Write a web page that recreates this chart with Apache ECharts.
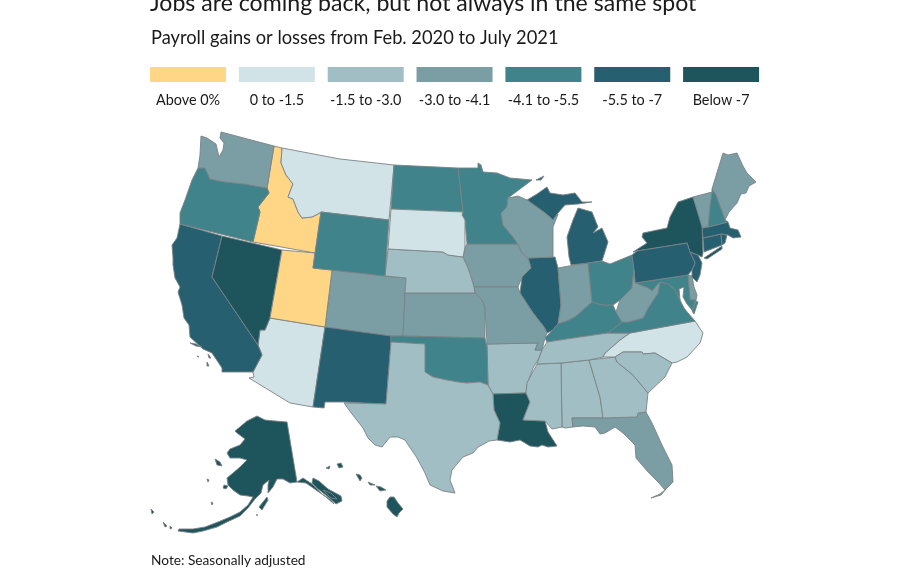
<!DOCTYPE html>
<html><head><meta charset="utf-8">
<style>html,body{margin:0;padding:0;background:#fff;overflow:hidden}#c{width:910px;height:568px}</style>
<script src="https://cdn.jsdelivr.net/npm/echarts@6/dist/echarts.min.js"></script>
</head><body><div id="c"></div>
<script>
const titleText = 'Jobs are coming back, but not always in the same spot';
const subtitleText = 'Payroll gains or losses from Feb. 2020 to July 2021';
const noteText = 'Note: Seasonally adjusted';
const legendLabels = ['Above 0%', '0 to -1.5', '-1.5 to -3.0', '-3.0 to -4.1', '-4.1 to -5.5', '-5.5 to -7', 'Below -7'];
const legendColors = ['#ffd685', '#d2e3e7', '#a0bec4', '#7a9ea4', '#40838a', '#265f70', '#1e555d'];
const binLower = [0, -1.5, -3.0, -4.1, -5.5, -7, -30];
const binUpper = [30, 0, -1.5, -3.0, -4.1, -5.5, -7];

const stateNames = ['Alabama','Alaska','Arizona','Arkansas','California','Colorado','Connecticut','Delaware','Florida','Georgia','Hawaii','Idaho','Illinois','Indiana','Iowa','Kansas','Kentucky','Louisiana','Maine','Maryland','Massachusetts','Michigan','Minnesota','Mississippi','Missouri','Montana','Nebraska','Nevada','New Hampshire','New Jersey','New Mexico','New York','North Carolina','North Dakota','Ohio','Oklahoma','Oregon','Pennsylvania','Rhode Island','South Carolina','South Dakota','Tennessee','Texas','Utah','Vermont','Virginia','Washington','West Virginia','Wisconsin','Wyoming'];
const stateValues = [-2.2,-7.5,-0.9,-1.9,-6.4,-3.6,-6.2,-3.9,-3.7,-1.9,-12.5,1.9,-5.9,-3.2,-3.4,-3.8,-4.3,-7.6,-3.5,-5.1,-6.6,-6.1,-5.0,-2.4,-3.3,-0.8,-2.4,-7.8,-4.6,-6.3,-5.8,-9.0,-1.2,-5.2,-4.7,-4.5,-4.9,-6.0,-5.7,-2.5,-1.1,-2.0,-2.6,1.6,-3.9,-4.8,-3.6,-3.7,-3.3,-5.3];

/* state outlines, traced in the reference's map space (one list per ring) */
const stateShapes = {
Washington:[[[201,136],[207,138],[216,144],[219,157],[223,150],[224,143],[220,138],[221,132],[274,146],[267,188],[245,184],[225,182],[210,179],[205,168],[198,168],[200,155]]],
Oregon:[[[198,168],[205,168],[210,179],[225,182],[245,184],[267,188],[269,193],[258,207],[260,212],[253,242],[180,224],[180,213],[185,200],[192,180]]],
Idaho:[[[274,146],[282,148],[281,163],[286,175],[293,184],[288,197],[293,199],[298,212],[302,218],[312,217],[318,214],[321,212],[315,253],[253,242],[260,212],[258,207],[269,193],[267,188]]],
Montana:[[[282,148],[340,159],[394,165],[389,220],[321,212],[318,214],[312,217],[302,218],[298,212],[293,199],[288,197],[293,184],[286,175],[281,163]]],
Wyoming:[[[321,212],[389,220],[385,276],[313,268]]],
Nevada:[[[222,236],[282,250],[270,318],[265,330],[260,330],[258,345],[212,277]]],
Utah:[[[282,250],[315,253],[313,268],[332,270],[325,327],[270,318]]],
Colorado:[[[332,270],[385,276],[406,278],[403,336],[391,336],[325,327]]],
Arizona:[[[270,318],[325,327],[313,407],[290,403],[249,378],[254,377],[253,372],[262,355],[258,345],[260,330],[265,330]]],
'New Mexico':[[[325,327],[391,336],[391,342],[386,404],[343,402],[325,402],[324,408],[313,407]]],
California:[[[180,224],[222,236],[212,277],[258,345],[262,355],[253,372],[222,372],[222,368],[212,353],[203,349],[190,337],[189,325],[184,318],[182,305],[178,292],[180,287],[175,278],[173,265],[173,258],[172,245],[177,238]],[[190,343],[196,344],[202,347],[196,346]],[[197,356],[199,357],[198,358]],[[208,354],[211,358],[209,358]],[[207,362],[209,366],[207,366]]],
Oklahoma:[[[391,336],[403,336],[485,338],[487,347],[488,385],[480,382],[467,383],[458,382],[447,380],[433,377],[425,372],[425,344],[391,342]]],
Texas:[[[391,342],[425,344],[425,372],[433,377],[447,380],[458,382],[467,383],[480,382],[488,385],[493,394],[494,410],[500,423],[497,440],[489,441],[484,444],[478,447],[473,453],[463,457],[452,470],[450,480],[455,493],[443,491],[430,485],[425,473],[417,458],[405,440],[398,437],[390,437],[382,447],[375,445],[368,438],[363,428],[352,414],[344,403],[386,404]]],
Nebraska:[[[388,249],[443,252],[448,255],[463,257],[468,268],[472,280],[474,287],[475,293],[405,293],[406,278],[385,276]]],
'South Dakota':[[[391,209],[463,212],[462,215],[465,220],[465,247],[463,257],[448,255],[443,252],[388,249]]],
'North Dakota':[[[394,165],[458,168],[463,212],[391,209]]],
Minnesota:[[[458,168],[478,168],[478,163],[481,165],[483,172],[497,173],[510,178],[532,180],[508,198],[507,207],[501,213],[503,225],[513,237],[518,244],[467,244],[465,220],[462,215],[463,212]]],
Iowa:[[[467,244],[518,244],[522,253],[528,258],[531,268],[522,277],[518,287],[474,287],[472,280],[468,268],[463,257],[465,247]]],
Missouri:[[[474,287],[518,287],[520,293],[533,313],[544,327],[547,333],[545,338],[542,350],[535,350],[538,343],[487,344],[485,307],[482,300],[475,293]]],
Kansas:[[[405,293],[475,293],[482,300],[485,307],[485,338],[403,336]]],
Arkansas:[[[487,344],[538,343],[535,350],[542,350],[538,360],[533,368],[527,385],[526,393],[493,394],[488,385]]],
Louisiana:[[[493,394],[526,393],[530,402],[523,420],[545,421],[548,432],[557,446],[548,447],[542,445],[538,447],[530,446],[520,440],[510,442],[497,440],[500,423],[494,410]]],
Mississippi:[[[537,364],[561,363],[562,427],[552,429],[545,421],[523,420],[530,402],[526,393],[527,383]]],
Alabama:[[[561,363],[589,360],[600,397],[603,418],[572,418],[573,427],[565,428],[562,427]]],
Georgia:[[[589,360],[615,357],[617,362],[633,375],[648,393],[646,412],[638,413],[637,417],[603,418],[600,397]]],
'South Carolina':[[[615,357],[623,352],[642,352],[643,354],[655,353],[672,363],[665,377],[648,393],[633,375],[617,362]]],
Florida:[[[572,418],[603,418],[637,417],[638,413],[646,412],[652,423],[662,445],[672,465],[673,482],[665,490],[658,482],[648,472],[636,458],[635,445],[623,433],[615,427],[605,433],[600,434],[595,427],[583,426],[573,427]],[[651,498],[660,494],[666,489],[661,495]]],
Tennessee:[[[547,342],[580,337],[608,333],[630,333],[620,340],[612,347],[605,353],[603,357],[589,360],[561,363],[537,364],[542,350]]],
'North Carolina':[[[695,321],[703,333],[700,343],[687,357],[677,362],[672,363],[655,353],[643,354],[642,352],[623,352],[615,357],[603,357],[605,353],[612,347],[620,340],[630,333]]],
Virginia:[[[695,321],[630,333],[608,333],[622,322],[628,322],[643,318],[648,308],[658,293],[660,282],[668,284],[675,290],[680,300],[684,308],[688,313]],[[696,301],[698,302],[694,314],[692,311]]],
Maryland:[[[635,283],[688,275],[690,300],[696,300],[692,310],[687,304],[683,297],[684,287],[679,289],[680,300],[675,290],[668,284],[660,282],[652,291],[648,288]]],
Delaware:[[[688,275],[692,276],[694,287],[697,295],[696,300],[690,300]]],
'West Virginia':[[[634,270],[635,283],[648,288],[652,291],[660,282],[658,293],[648,308],[643,318],[628,322],[622,322],[616,312],[620,300],[632,288]]],
Kentucky:[[[545,338],[558,324],[567,321],[575,317],[592,302],[603,305],[613,305],[616,312],[622,322],[608,333],[580,337],[547,342]]],
Ohio:[[[588,263],[602,261],[610,264],[632,255],[634,270],[632,288],[620,300],[613,305],[603,305],[592,302]]],
Indiana:[[[558,268],[569,266],[588,263],[592,302],[575,317],[567,321],[558,324],[561,305]]],
Illinois:[[[528,258],[555,257],[558,268],[561,305],[558,324],[553,330],[547,333],[544,327],[533,313],[520,293],[522,277],[531,268]]],
Wisconsin:[[[508,198],[518,196],[527,200],[545,213],[553,220],[558,214],[553,227],[553,257],[528,258],[522,253],[518,244],[513,237],[503,225],[501,213],[507,207]]],
Michigan:[[[527,200],[537,194],[547,187],[550,193],[563,195],[575,193],[582,202],[592,202],[578,204],[565,205],[558,213],[553,220],[545,213]],[[578,208],[592,212],[598,227],[593,233],[602,228],[608,242],[602,261],[588,263],[571,265],[569,257],[567,237],[573,220]],[[536,180],[544,176],[541,180]]],
Pennsylvania:[[[632,255],[637,251],[687,243],[690,252],[695,263],[692,270],[688,275],[635,283],[634,270]]],
'New Jersey':[[[690,252],[698,255],[702,263],[700,275],[697,282],[692,277],[692,270],[695,263]]],
'New York':[[[637,251],[633,252],[647,243],[642,237],[643,233],[667,228],[670,217],[678,202],[693,197],[702,223],[703,253],[702,257],[698,255],[690,252],[687,243]],[[704,258],[722,246],[722,249],[707,259]]],
Vermont:[[[693,197],[712,192],[710,205],[708,227],[702,227]]],
'New Hampshire':[[[712,189],[716,195],[725,220],[728,222],[708,227],[710,205],[712,192]]],
Maine:[[[712,189],[723,153],[728,155],[737,153],[743,166],[747,173],[756,182],[749,186],[746,193],[741,194],[737,203],[729,212],[725,220],[716,195]]],
Massachusetts:[[[702,228],[708,227],[728,222],[730,228],[738,230],[741,237],[733,238],[728,235],[721,234],[703,238]]],
Connecticut:[[[703,238],[721,234],[722,245],[704,252]]],
'Rhode Island':[[[721,234],[727,235],[725,243],[722,245]]],
Alaska:[[[257,416],[265,420],[275,421],[287,422],[297,482],[290,483],[283,479],[277,479],[273,487],[268,493],[268,485],[269,480],[263,485],[261,493],[255,499],[248,508],[240,516],[227,522],[217,527],[203,531],[193,533],[178,531],[179,529],[193,529],[205,527],[218,522],[230,517],[240,512],[248,505],[253,497],[248,496],[240,495],[233,490],[228,485],[227,478],[233,473],[240,467],[247,460],[240,458],[230,458],[227,453],[230,449],[240,445],[245,439],[237,433],[235,431],[247,421]],[[297,482],[303,478],[312,484],[322,494],[331,500],[334,504],[326,497],[316,490],[306,483]],[[313,478],[319,481],[328,489],[341,496],[342,501],[336,504],[327,496],[318,489],[312,483]],[[323,490],[331,493],[337,499],[331,498]],[[267,497],[268,500],[262,510],[259,507]],[[224,485],[228,486],[226,489],[223,488]],[[215,459],[220,462],[222,466],[217,465]],[[151,509],[154,512],[152,514]],[[163,522],[167,526],[165,527]],[[170,526],[172,528],[170,529]],[[207,479],[209,480],[208,482]],[[211,502],[213,503],[212,505]],[[257,514],[258,515],[257,516]]],
Hawaii:[[[390,497],[394,497],[398,503],[403,509],[399,513],[397,517],[393,514],[387,507],[387,501]],[[376,486],[381,487],[386,490],[380,491]],[[368,482],[375,485],[370,485]],[[356,474],[360,475],[362,478],[360,481]],[[337,464],[341,463],[343,467],[339,468]],[[326,468],[330,466],[329,469]]]
};

const usFeatures = stateNames.map(name => ({
  type: 'Feature',
  properties: { name },
  geometry: { type: 'MultiPolygon', coordinates: stateShapes[name].map(r => [r.concat([r[0]])]) }
}));
echarts.registerMap('usStates', { type: 'FeatureCollection', features: usFeatures });

// the map frame comes from the outlines themselves, so map units equal page pixels
const allPts = Object.values(stateShapes).flat(2);
const xs = allPts.map(p => p[0]), ys = allPts.map(p => p[1]);
const frame = { left: Math.min(...xs), top: Math.min(...ys), width: Math.max(...xs) - Math.min(...xs), height: Math.max(...ys) - Math.min(...ys) };

const FONT = 'Lato';
const SW = 76, STEP = 88.85, X0 = 150;
const legendGraphics = [];
legendLabels.forEach((t, i) => {
  legendGraphics.push({ type: 'rect', left: X0 + i * STEP, top: 67, shape: { width: SW, height: 15 }, style: { fill: legendColors[i] }, silent: true });
  legendGraphics.push({ type: 'text', x: X0 + i * STEP + SW / 2, y: 100, silent: true, style: { text: t, fill: '#1a1a1a', font: '14.4px ' + FONT, textAlign: 'center', textVerticalAlign: 'middle' } });
});

const chart = echarts.init(document.getElementById('c'), null, { renderer: 'canvas' });
chart.setOption({
  animation: false,
  backgroundColor: '#fff',
  title: [
    { text: titleText, left: 150, top: -8, textStyle: { fontFamily: FONT, fontWeight: 'normal', fontSize: 23.1, color: '#1a1a1a' }, padding: 0 },
    { text: subtitleText, left: 151, top: 29, textStyle: { fontFamily: FONT, fontWeight: 'normal', fontSize: 18.3, color: '#1a1a1a' }, padding: 0 },
    { text: noteText, left: 151, top: 554, textStyle: { fontFamily: FONT, fontWeight: 'normal', fontSize: 13.7, color: '#1a1a1a' }, padding: 0 }
  ],
  visualMap: {
    show: false, type: 'piecewise', seriesIndex: 0,
    pieces: legendLabels.map((label, i) => ({ min: binLower[i], max: binUpper[i], label, color: legendColors[i] }))
  },
  series: [{
    type: 'map', map: 'usStates', roam: false, silent: true, aspectScale: 1,
    projection: { project: p => [p[0], p[1]], unproject: p => [p[0], p[1]] },
    left: frame.left, top: frame.top, width: frame.width, height: frame.height,
    label: { show: false },
    itemStyle: { borderColor: '#7b8285', borderWidth: 0.9, areaColor: '#ddd' },
    emphasis: { disabled: true },
    data: stateNames.map((name, i) => ({ name, value: stateValues[i] }))
  }],
  graphic: legendGraphics
});
</script></body></html>
